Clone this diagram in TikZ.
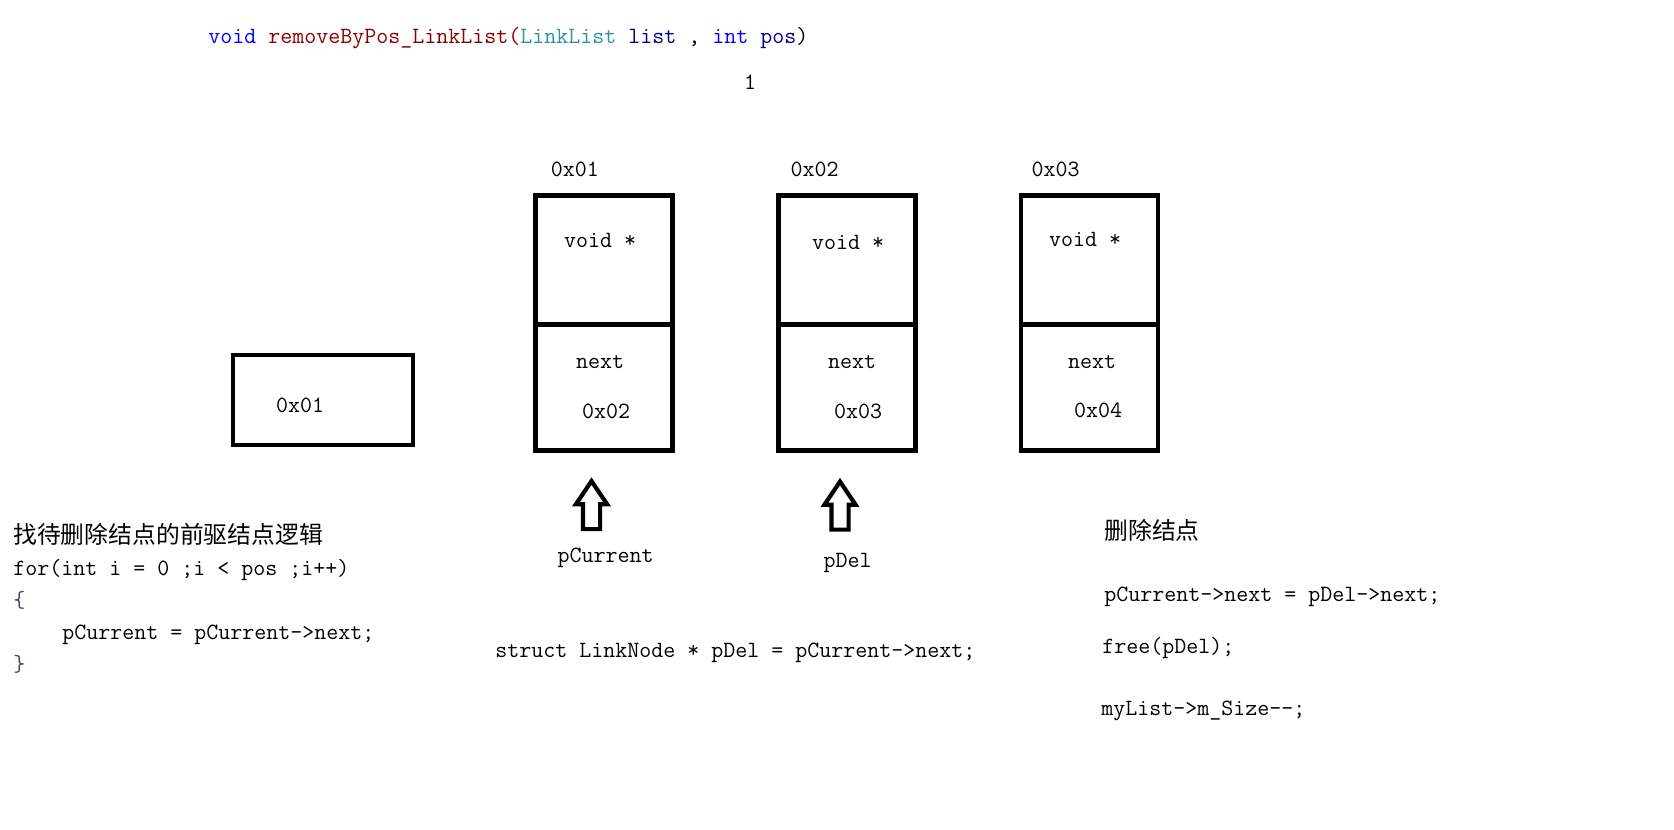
\documentclass[tikz,border=0pt]{standalone}
\usepackage{fontspec}
\newfontfamily\cjk{Noto Sans CJK SC}
\usetikzlibrary{positioning, shapes.arrows}
\definecolor{kwblue}{RGB}{0,0,255}
\definecolor{fnred}{RGB}{136,0,0}
\definecolor{typeteal}{RGB}{43,145,175}
\definecolor{varnavy}{RGB}{0,0,128}
\definecolor{bracecol}{RGB}{96,56,96}

\begin{document}
\begin{tikzpicture}[x=0.5bp, y=-0.5bp,
		code/.style = {font=\fontsize{11.65bp}{16bp}\selectfont\ttfamily, inner sep=0pt},
		cjktext/.style = {font=\fontsize{11.9bp}{16bp}\selectfont\cjk, inner sep=0pt},
		cell/.style = {draw, line width=2.35bp, outer sep=0pt, inner sep=0pt, minimum width=68.5bp},
		celltop/.style = {cell, minimum height=64.75bp},
		cellbot/.style = {cell, minimum height=62.75bp},
		ptr/.style = {single arrow, draw, line width=2.1bp, shape border rotate=90, inner sep=3.25bp,
			single arrow head extend=3.5bp, single arrow tip angle=68, minimum width=13.5bp, minimum height=24bp}
		]
		\useasboundingbox (0,0) rectangle (1674,830);

		\node (title) [code, anchor=west] at (208,38) {{\color{kwblue}void} {\color{fnred}removeByPos\_LinkList(}{\color{typeteal}LinkList} {\color{varnavy}list} , {\color{kwblue}int} {\color{varnavy}pos})};
		\node (one) [code] at (750,82) {1};

		% head pointer
		\node (head) [cell, minimum width=90bp, minimum height=45bp] at (323,400) {};
		\node (headval) [code] at (300,405) {0x01};

		% list nodes
		\node (A) [celltop] at (604,260) {};
		\node (A2) [cellbot, below=0pt of A] {};
		\node (B) [celltop, right=52.9bp of A] {};
		\node (B2) [cellbot, below=0pt of B] {};
		\node (C) [celltop, right=52.9bp of B] {};
		\node (C2) [cellbot, below=0pt of C] {};

		\node (addrA) [code, above right=9bp and 7.5bp of A.north west] {0x01};
		\node (addrB) [code, above right=9bp and 6bp of B.north west] {0x02};
		\node (addrC) [code, above right=9bp and 5bp of C.north west] {0x03};

		\node (dataA) [code] at (600,240) {void *};
		\node (dataB) [code] at (848,242) {void *};
		\node (dataC) [code] at (1085,239) {void *};
		\node (nextA) [code] at (600,362) {next};
		\node (nextB) [code] at (852,362) {next};
		\node (nextC) [code] at (1092,362) {next};
		\node (valA) [code] at (606,411) {0x02};
		\node (valB) [code] at (858,411) {0x03};
		\node (valC) [code] at (1098,410) {0x04};

		% pointers
		\node (cur) [ptr] at (591.5,511.5) {};
		\node (del) [ptr] at (840,512) {};
		\node (curname) [code, below=8bp of cur, xshift=7bp] {pCurrent};
		\node (delname) [code, below=10.5bp of del, xshift=3.75bp] {pDel};

		% code
		\node (find) [code, anchor=north west, align=left] at (13,523) {{\cjk\fontsize{11.9bp}{16bp}\selectfont 找待删除结点的前驱结点逻辑}\\
			for(int i = 0 ;i < pos ;i++)\\
			{\color{bracecol}\{}\\
			\hspace*{2.1em}pCurrent = pCurrent->next;\\
			{\color{bracecol}\}}};
		\node (getdel) [code, anchor=west] at (495,653) {struct LinkNode * pDel = pCurrent->next;};

		\node (remove) [cjktext, anchor=west] at (1104,530) {删除结点};
		\node (relink) [code, anchor=west] at (1104,597) {pCurrent->next = pDel->next;};
		\node (freeit) [code, anchor=west] at (1102,648) {free(pDel);};
		\node (size) [code, anchor=west] at (1101,711) {myList->m\_Size-{}-;};
	\end{tikzpicture}
\end{document}
